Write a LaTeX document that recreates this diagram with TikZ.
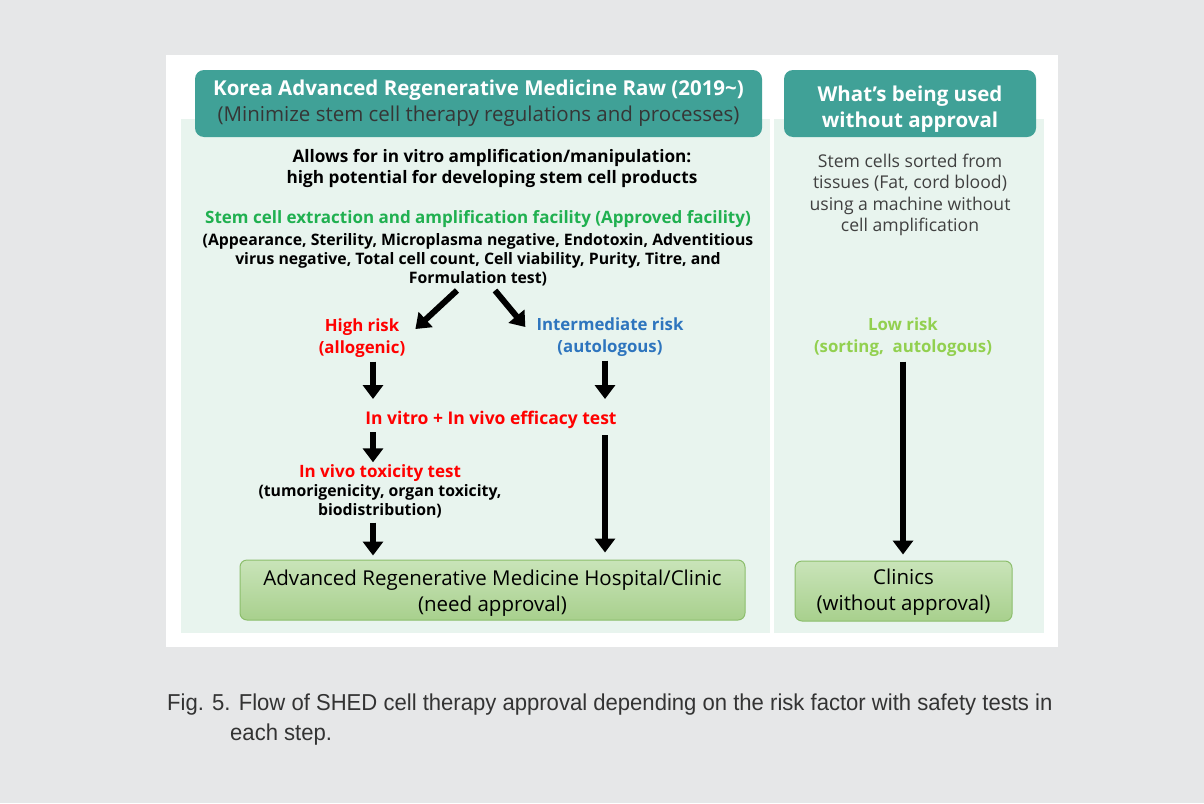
\documentclass[tikz,border=0pt]{standalone}
\usepackage{fontspec}
\setmainfont{Open Sans}
\newfontfamily\capfont[FakeStretch=0.96]{Liberation Sans}
\usetikzlibrary{arrows.meta}
\definecolor{pagegray}{RGB}{230,231,232}
\definecolor{panelgreen}{RGB}{232,244,238}
\definecolor{headteal}{RGB}{64,161,151}
\definecolor{okgreen}{RGB}{32,176,80}
\definecolor{midblue}{RGB}{46,117,190}
\definecolor{lowgreen}{RGB}{146,208,80}
\definecolor{boxtop}{RGB}{201,228,185}
\definecolor{boxbot}{RGB}{168,208,141}
\definecolor{boxline}{RGB}{140,190,108}
\definecolor{darktext}{RGB}{64,64,64}
\tikzset{
  header/.style={fill=headteal,rounded corners=9pt,minimum height=67pt,align=center,text=white,
    font=\fontsize{20.5}{26}\selectfont},
  txt/.style={align=center,inner sep=0pt,font=\bfseries\fontsize{15.8}{19}\selectfont},
  risk/.style={align=center,inner sep=0pt,font=\bfseries\fontsize{16.8}{22}\selectfont},
  bigarrow/.style={line width=6pt,-{Triangle[width=20pt,length=14pt]}},
  endbox/.style={draw=boxline,line width=1pt,rounded corners=7pt,top color=boxtop,bottom color=boxbot,
    minimum height=60pt,align=center,font=\fontsize{20.5}{26}\selectfont}
}
\begin{document}
\begin{tikzpicture}[x=1pt,y=-1pt]
\fill[pagegray] (0,0) rectangle (1204,803);
\fill[white] (166,55) rectangle (1058,647);
\fill[panelgreen] (181,119) rectangle (770,633);
\fill[panelgreen] (774,119) rectangle (1044,633);
% headers
\node[header,minimum width=567pt] (hdrLeft) at (478.5,103.5)
  {\textbf{Korea Advanced Regenerative Medicine Raw (2019\textasciitilde)}\\
   {\color{darktext!85!black}(Minimize stem cell therapy regulations and processes)}};
\node[header,minimum width=252pt,font=\bfseries\fontsize{20.5}{26}\selectfont] (hdrRight) at (910,103.5)
  {\rule{0pt}{27.6pt}What's being used\\without approval};
% left column
\node[txt,font=\bfseries\fontsize{17.2}{21}\selectfont] (allows) at (492,168)
  {Allows for in vitro amplification/manipulation:\\high potential for developing stem cell products};
\node[txt,text=okgreen,font=\bfseries\fontsize{17}{20}\selectfont] (facility) at (478,219)
  {Stem cell extraction and amplification facility (Approved facility)};
\node[txt] (tests) at (478,260)
  {(Appearance, Sterility, Microplasma negative, Endotoxin, Adventitious\\
   virus negative, Total cell count, Cell viability, Purity, Titre, and\\
   Formulation test)};
\node[risk,text=red] (high) at (362,338) {High risk\\(allogenic)};
\node[risk,text=midblue] (inter) at (610,337) {Intermediate risk\\(autologous)};
\node[risk,text=red,font=\bfseries\fontsize{17.5}{22}\selectfont] (vitro) at (491,420) {In vitro + In vivo efficacy test};
\node[txt,text=red,font=\bfseries\fontsize{17}{20}\selectfont] (toxic) at (380,473) {In vivo toxicity test};
\node[txt,below=3pt] (toxicsub) at (toxic.south) {(tumorigenicity, organ toxicity,\\biodistribution)};
\node[endbox,minimum width=505pt] (hospital) at (492.5,590)
  {\rule{0pt}{21.6pt}Advanced Regenerative Medicine Hospital/Clinic\\(need approval)};
% right column
\node[align=center,inner sep=0pt,text=darktext,font=\fontsize{17.6}{21.3}\selectfont] (sorted) at (910,195)
  {Stem cells sorted from\\tissues (Fat, cord blood)\\using a machine without\\cell amplification};
\node[risk,text=lowgreen] (low) at (903,337) {Low risk\\(sorting,~ autologous)};
\node[endbox,minimum width=217pt] (clinics) at (903.5,591) {\rule{0pt}{17.6pt}Clinics\\(without approval)};
% arrows
\draw[bigarrow] ([xshift=-21pt,yshift=-4pt]tests.south) -- ([xshift=10pt,yshift=9pt]high.east);
\draw[bigarrow] ([xshift=17pt,yshift=-4pt]tests.south) -- ([xshift=-11pt,yshift=10pt]inter.west);
\draw[bigarrow,shorten <=4pt,shorten >=12pt] ([xshift=11pt]high.south) -- ([xshift=11pt]high.south |- vitro.north);
\draw[bigarrow,shorten <=4pt,shorten >=12pt] ([xshift=-5pt]inter.south) -- ([xshift=-5pt]inter.south |- vitro.north);
\draw[bigarrow,shorten <=3pt,shorten >=2pt] ([xshift=-7pt]toxic.north |- vitro.south) -- ([xshift=-7pt]toxic.north);
\draw[bigarrow,shorten <=4pt,shorten >=4pt] ([xshift=-7pt]toxicsub.south) -- ([xshift=-7pt]toxicsub.south |- hospital.north);
\draw[bigarrow,shorten <=6pt,shorten >=7pt] ([xshift=-5pt]inter.south |- vitro.south) -- ([xshift=-5pt]inter.south |- hospital.north);
\draw[bigarrow,shorten <=5pt,shorten >=6pt] (low.south) -- (low.south |- clinics.north);
% caption
\node[anchor=north west,align=left,inner sep=0pt,text=black!80,font=\capfont\fontsize{23}{30}\selectfont] (caption) at (167,694)
  {Fig. 5. Flow of SHED cell therapy approval depending on the risk factor with safety tests in\\
   \hspace*{63pt}each step.};
\end{tikzpicture}
\end{document}
